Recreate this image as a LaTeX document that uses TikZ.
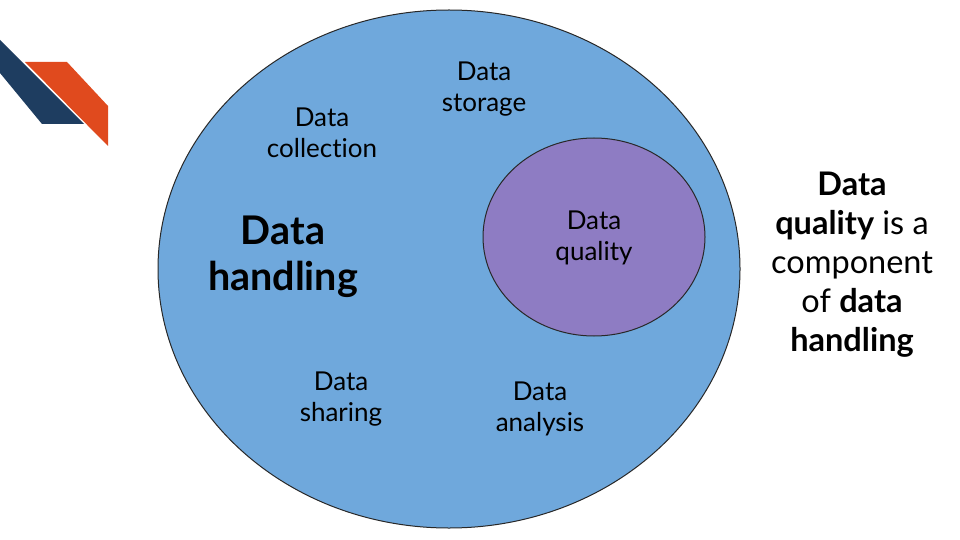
\documentclass[tikz,border=0pt]{standalone}
\usetikzlibrary{shapes.geometric}
\usepackage{fontspec}
\setmainfont[Ligatures={NoCommon,NoDiscretionary,NoContextual}]{Lato}
\begin{document}
\begin{tikzpicture}[x=1pt,y=-1pt,
  lbl/.style={align=center,font=\fontsize{26}{31}\selectfont},
  big/.style={align=center,font=\fontsize{39.5}{46}\selectfont\bfseries},
  side/.style={align=center,font=\fontsize{32.5}{39}\selectfont}]
\useasboundingbox (0,0) rectangle (960,540);
\fill[white] (0,0) rectangle (960,540);
\fill[fill={rgb,255:red,30;green,61;blue,96}] (0,40) -- (84,124) -- (42,124) -- (0,73) -- cycle;
\fill[fill={rgb,255:red,224;green,74;blue,30}] (25,62) -- (67,62) -- (108,106) -- (108,146) -- cycle;
\node[draw={rgb,255:red,40;green,40;blue,40},fill={rgb,255:red,111;green,168;blue,220},ellipse,minimum width=582,minimum height=518,line width=1pt,inner sep=0] (outer) at (449,269) {};
\node[draw={rgb,255:red,40;green,40;blue,40},fill={rgb,255:red,142;green,124;blue,195},ellipse,minimum width=222,minimum height=198,line width=1pt,inner sep=0] (inner) at (594,237) {};
\node[lbl] (q) at (594,238) {Data\\quality};
\node[lbl] (st) at (484,89) {Data\\storage};
\node[lbl] (co) at (322,133) {Data\\collection};
\node[lbl] (sh) at (341,399) {Data\\sharing};
\node[lbl] (an) at (540,409) {Data\\analysis};
\node[big] (dh) at (283,257) {Data\\handling};
\node[side] (sd) at (852,265) {\textbf{Data}\\\textbf{quality} is a\\component\\of \textbf{data}\\\textbf{handling}};
\end{tikzpicture}
\end{document}
